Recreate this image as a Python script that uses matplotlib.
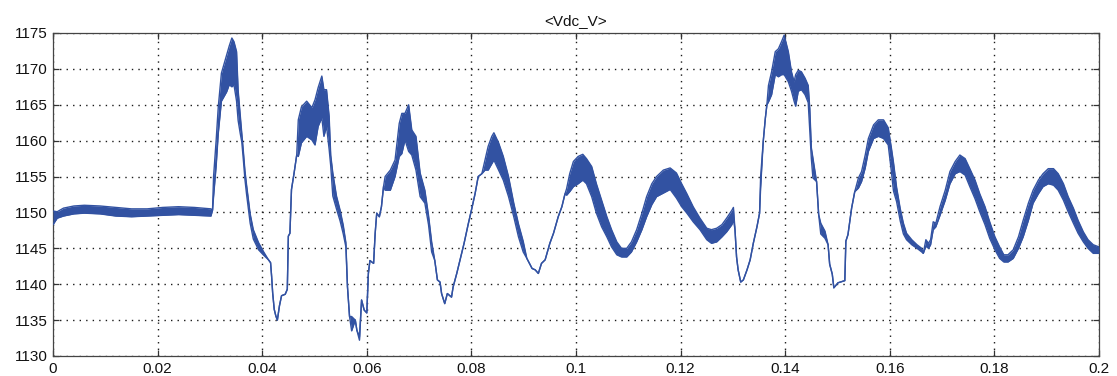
import matplotlib
matplotlib.use("Agg")
import matplotlib.pyplot as plt

# DC-link voltage trace: time (s) with the lower / upper edge of the ripple band (V)
time_s = [
    0.0000, 0.0008, 0.0020, 0.0040, 0.0060, 0.0090, 0.0120, 0.0150, 0.0180, 0.0210,
    0.0240, 0.0270, 0.0302,
    0.0305, 0.0307, 0.0312, 0.0316, 0.0322, 0.0332, 0.0337, 0.0342, 0.0346, 0.0351,
    0.0354, 0.0358, 0.0361, 0.0364, 0.0367, 0.0370, 0.0374, 0.0377, 0.0383, 0.0393,
    0.0402, 0.0412, 0.0416, 0.0418, 0.0420, 0.0423, 0.0426, 0.0429, 0.0433, 0.0437,
    0.0444, 0.0448, 0.0450, 0.0453, 0.0456, 0.0461, 0.0466, 0.0469, 0.0475, 0.0485,
    0.0495, 0.0501, 0.0507, 0.0514, 0.0518, 0.0523, 0.0528, 0.0531, 0.0535, 0.0542,
    0.0549, 0.0555, 0.0560, 0.0563, 0.0567, 0.0571, 0.0578, 0.0581, 0.0586, 0.0590,
    0.0595, 0.0600, 0.0603, 0.0606, 0.0613, 0.0616, 0.0619, 0.0624, 0.0628, 0.0632,
    0.0635, 0.0645, 0.0654, 0.0662, 0.0667, 0.0673, 0.0680, 0.0686, 0.0694, 0.0702,
    0.0711, 0.0718, 0.0724, 0.0730, 0.0735, 0.0740, 0.0743, 0.0749, 0.0754, 0.0762,
    0.0765, 0.0772, 0.0778, 0.0786, 0.0794, 0.0800, 0.0807, 0.0813, 0.0820, 0.0826,
    0.0832, 0.0839, 0.0843, 0.0852, 0.0861, 0.0871, 0.0881, 0.0890, 0.0899, 0.0906,
    0.0916, 0.0922, 0.0928, 0.0934, 0.0941, 0.0950, 0.0957, 0.0966, 0.0973, 0.0979,
    0.0982, 0.0988, 0.0995, 0.1004, 0.1013, 0.1020, 0.1030, 0.1039, 0.1049, 0.1059,
    0.1068, 0.1078, 0.1087, 0.1097, 0.1106, 0.1116, 0.1126, 0.1135, 0.1145, 0.1154,
    0.1167, 0.1180, 0.1192, 0.1202, 0.1212, 0.1224, 0.1237, 0.1250, 0.1259, 0.1269,
    0.1279, 0.1288, 0.1298, 0.1301, 0.1304, 0.1307, 0.1310, 0.1315, 0.1320, 0.1327,
    0.1333, 0.1339, 0.1346, 0.1351, 0.1353, 0.1358, 0.1362, 0.1365, 0.1368, 0.1374,
    0.1381, 0.1387, 0.1393, 0.1398, 0.1406, 0.1412, 0.1417, 0.1420, 0.1425, 0.1431,
    0.1438, 0.1444, 0.1447, 0.1450, 0.1453, 0.1460, 0.1464, 0.1468, 0.1476, 0.1482,
    0.1485, 0.1490, 0.1493, 0.1501, 0.1514, 0.1516, 0.1520, 0.1527, 0.1533, 0.1540,
    0.1546, 0.1553, 0.1559, 0.1569, 0.1578, 0.1588, 0.1597, 0.1603, 0.1607, 0.1613,
    0.1620, 0.1626, 0.1632, 0.1642, 0.1652, 0.1661, 0.1664, 0.1669, 0.1674, 0.1678,
    0.1683, 0.1688, 0.1696, 0.1706, 0.1715, 0.1725, 0.1734, 0.1744, 0.1753, 0.1763,
    0.1772, 0.1782, 0.1791, 0.1801, 0.1810, 0.1818, 0.1826, 0.1836, 0.1846, 0.1855,
    0.1865, 0.1874, 0.1884, 0.1893, 0.1903, 0.1913, 0.1922, 0.1932, 0.1941, 0.1951,
    0.1960, 0.1970, 0.1979, 0.1989, 0.2000,
]

vdc_lower = [
    1148.3, 1149.2, 1149.5, 1149.8, 1149.9, 1149.8, 1149.5, 1149.4, 1149.5, 1149.6,
    1149.7, 1149.6, 1149.5,
    1150.3, 1152.2, 1156.5, 1161.0, 1165.5, 1166.8, 1167.8, 1167.5, 1167.8, 1165.5,
    1162.8, 1161.0, 1159.8, 1157.3, 1154.6, 1152.6, 1150.2, 1148.5, 1146.3, 1144.8,
    1144.1, 1143.4, 1143.0, 1141.1, 1138.8, 1136.5, 1135.6, 1135.0, 1137.0, 1138.4,
    1138.6, 1139.3, 1146.7, 1147.1, 1153.2, 1155.5, 1158.0, 1157.8, 1159.7, 1160.6,
    1160.1, 1159.4, 1162.0, 1163.2, 1160.6, 1162.0, 1158.8, 1156.5, 1152.3, 1150.5,
    1148.8, 1147.0, 1145.2, 1139.7, 1135.5, 1133.5, 1135.0, 1133.6, 1132.2, 1137.8,
    1136.4, 1136.0, 1141.5, 1143.3, 1142.9, 1147.1, 1149.9, 1149.4, 1150.8, 1153.6,
    1153.1, 1153.1, 1155.0, 1157.8, 1158.2, 1160.1, 1158.5, 1158.0, 1155.9, 1152.2,
    1151.3, 1148.3, 1144.5, 1143.3, 1140.6, 1140.3, 1138.7, 1137.3, 1138.7, 1138.2,
    1139.6, 1141.5, 1143.3, 1145.7, 1148.4, 1150.3, 1152.6, 1155.0, 1155.4, 1155.9,
    1155.9, 1156.8, 1157.3, 1155.9, 1154.5, 1152.2, 1149.4, 1146.6, 1144.5, 1143.6,
    1142.2, 1142.0, 1141.5, 1142.9, 1143.4, 1145.7, 1147.1, 1149.4, 1150.8, 1152.6,
    1152.4, 1152.9, 1153.6, 1154.0, 1154.5, 1154.0, 1152.2, 1149.9, 1148.0, 1146.6,
    1145.2, 1144.1, 1143.8, 1143.8, 1144.5, 1145.9, 1147.6, 1149.4, 1151.1, 1152.2,
    1152.7, 1153.2, 1152.0, 1150.8, 1149.9, 1148.7, 1147.6, 1146.2, 1145.7, 1145.9,
    1146.6, 1147.3, 1148.3, 1149.0, 1147.6, 1143.8, 1142.0, 1140.3, 1140.6, 1142.0,
    1143.4, 1145.7, 1148.0, 1149.9, 1153.4, 1159.9, 1163.1, 1165.0, 1165.4, 1166.4,
    1169.2, 1168.9, 1169.2, 1169.2, 1168.2, 1166.9, 1165.5, 1164.8, 1166.9, 1167.1,
    1166.4, 1165.3, 1161.4, 1157.5, 1154.8, 1154.3, 1149.7, 1147.0, 1146.4, 1145.5,
    1142.8, 1141.4, 1139.5, 1140.2, 1140.5, 1146.0, 1146.9, 1150.6, 1152.9, 1153.4,
    1154.3, 1156.2, 1158.5, 1160.3, 1160.6, 1160.3, 1159.4, 1155.7, 1153.0, 1151.5,
    1148.8, 1147.0, 1146.2, 1145.5, 1145.0, 1144.5, 1144.3, 1145.3, 1145.0, 1145.5,
    1147.6, 1148.0, 1149.6, 1151.7, 1154.0, 1155.4, 1155.7, 1155.2, 1153.6, 1151.9,
    1150.1, 1148.3, 1146.4, 1144.8, 1143.6, 1143.1, 1143.1, 1143.6, 1145.0, 1146.6,
    1148.9, 1151.3, 1152.6, 1153.6, 1154.0, 1153.8, 1153.1, 1151.7, 1150.1, 1148.5,
    1147.1, 1145.9, 1145.0, 1144.3, 1144.3,
]

vdc_upper = [
    1150.2, 1150.1, 1150.6, 1150.9, 1151.0, 1150.9, 1150.7, 1150.5, 1150.5, 1150.7,
    1150.8, 1150.7, 1150.5,
    1150.3, 1155.0, 1160.1, 1164.7, 1169.4, 1171.9, 1173.2, 1174.3, 1173.8, 1172.4,
    1167.0, 1163.5, 1161.0, 1158.5, 1155.8, 1153.9, 1151.6, 1149.8, 1147.6, 1145.8,
    1144.6, 1143.4, 1143.0, 1141.1, 1138.8, 1136.5, 1135.6, 1135.0, 1137.0, 1138.4,
    1138.6, 1139.3, 1146.7, 1147.1, 1153.2, 1155.5, 1158.0, 1162.9, 1164.7, 1165.5,
    1164.6, 1165.7, 1167.4, 1169.0, 1167.1, 1167.1, 1163.4, 1158.0, 1155.5, 1152.3,
    1150.3, 1148.2, 1145.8, 1139.7, 1135.5, 1135.5, 1135.0, 1133.6, 1132.7, 1137.8,
    1136.4, 1136.0, 1141.5, 1143.3, 1142.9, 1147.1, 1149.9, 1149.4, 1150.8, 1153.6,
    1155.0, 1155.9, 1157.3, 1162.4, 1163.8, 1163.8, 1165.0, 1161.5, 1160.6, 1155.5,
    1153.1, 1149.6, 1145.9, 1143.3, 1140.6, 1140.3, 1138.7, 1137.3, 1138.7, 1138.2,
    1139.6, 1141.5, 1143.3, 1145.7, 1148.4, 1150.3, 1152.6, 1155.0, 1155.4, 1157.3,
    1159.2, 1160.6, 1161.1, 1159.7, 1157.8, 1155.0, 1151.3, 1148.4, 1146.0, 1143.6,
    1142.2, 1142.0, 1141.5, 1142.9, 1143.4, 1145.7, 1147.1, 1149.4, 1150.8, 1152.6,
    1153.3, 1155.4, 1157.1, 1157.8, 1158.1, 1157.5, 1156.4, 1154.0, 1151.7, 1149.4,
    1147.6, 1145.9, 1145.0, 1145.0, 1145.9, 1147.6, 1149.9, 1152.2, 1154.0, 1155.0,
    1155.9, 1156.2, 1155.5, 1154.0, 1152.6, 1150.8, 1149.2, 1147.8, 1147.6, 1147.8,
    1148.3, 1149.2, 1150.3, 1150.7, 1147.6, 1143.8, 1142.0, 1140.3, 1140.6, 1142.0,
    1143.4, 1145.7, 1148.0, 1149.9, 1155.0, 1159.9, 1163.1, 1165.0, 1167.7, 1169.6,
    1172.4, 1172.8, 1173.8, 1174.7, 1172.4, 1169.6, 1168.2, 1169.2, 1169.8, 1169.6,
    1168.7, 1167.7, 1164.5, 1159.0, 1157.6, 1154.3, 1149.7, 1148.5, 1147.4, 1145.5,
    1142.8, 1141.4, 1139.5, 1140.2, 1140.5, 1146.0, 1146.9, 1150.6, 1152.9, 1154.8,
    1155.7, 1158.0, 1160.3, 1162.2, 1162.9, 1162.9, 1161.8, 1159.0, 1157.0, 1153.5,
    1150.5, 1148.5, 1147.1, 1146.2, 1145.5, 1145.0, 1144.3, 1146.2, 1145.7, 1146.2,
    1148.7, 1148.5, 1150.8, 1153.1, 1155.7, 1157.1, 1158.0, 1157.5, 1156.1, 1154.5,
    1152.6, 1150.8, 1148.7, 1146.6, 1145.2, 1144.1, 1144.1, 1144.8, 1146.6, 1148.9,
    1151.3, 1153.1, 1154.5, 1155.4, 1156.1, 1156.1, 1155.4, 1154.0, 1152.2, 1150.6,
    1148.9, 1147.3, 1146.2, 1145.5, 1145.2,
]

x_ticks = [0.0, 0.02, 0.04, 0.06, 0.08, 0.1, 0.12, 0.14, 0.16, 0.18, 0.2]
x_tick_labels = ["0", "0.02", "0.04", "0.06", "0.08", "0.1", "0.12", "0.14", "0.16", "0.18", "0.2"]
y_ticks = [1130, 1135, 1140, 1145, 1150, 1155, 1160, 1165, 1170, 1175]
title_text = "<Vdc_V>"

trace_color = "#3252a2"

plt.rcParams["font.family"] = ["Liberation Sans", "DejaVu Sans"]

fig = plt.figure(figsize=(11.17, 3.76), dpi=100, facecolor="white")
ax = fig.add_axes([53 / 1117, 20 / 376, 1046 / 1117, 323 / 376])

ax.fill_between(time_s, vdc_lower, vdc_upper, color=trace_color, lw=0, zorder=3)
ax.plot(time_s, vdc_lower, color=trace_color, lw=1.0, zorder=4)
ax.plot(time_s, vdc_upper, color=trace_color, lw=1.0, zorder=4)

ax.set_xlim(0, 0.2)
ax.set_ylim(1130, 1175)
ax.set_xticks(x_ticks)
ax.set_xticklabels(x_tick_labels)
ax.set_yticks(y_ticks)
ax.set_yticklabels([str(v) for v in y_ticks])

ax.grid(True, color="#1a1a1a", lw=1.0, linestyle=(0, (1, 3.7)), zorder=1)
ax.tick_params(direction="in", top=True, right=True, length=4, width=0.9,
               color="#333333", labelsize=11, labelcolor="#111111", pad=4)
for sp in ax.spines.values():
    sp.set_color("#444444")
    sp.set_linewidth(0.9)

ax.set_title(title_text, fontsize=11, color="#111111", pad=6)

fig.savefig("out.png", dpi=100, facecolor="white")
